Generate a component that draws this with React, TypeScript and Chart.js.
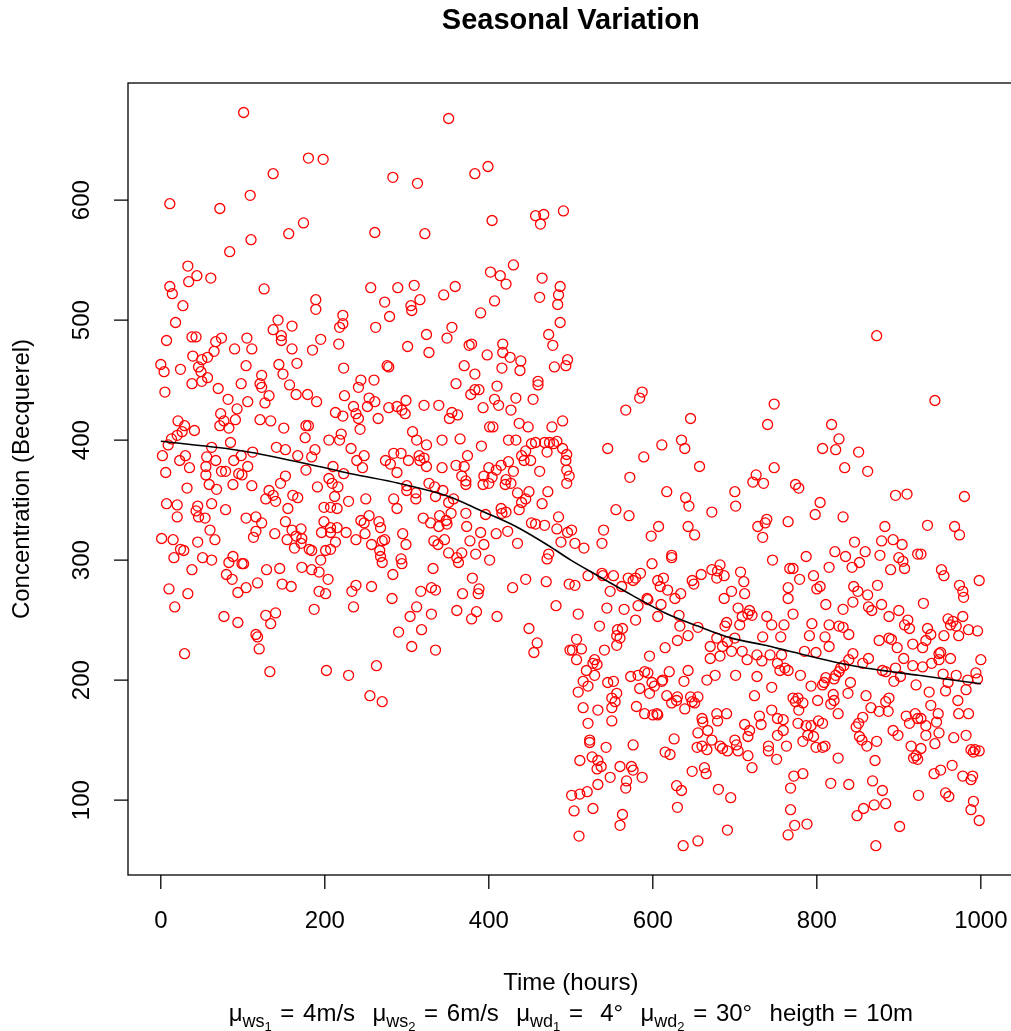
import React, { useEffect, useRef } from "react";
import { Chart, registerables } from "chart.js";

Chart.register(...registerables);

const WIDTH = 1011;
const HEIGHT = 1031;
const FONT = '"Liberation Sans", Arial, Helvetica, sans-serif';

const chartTitle = "Seasonal Variation";
const xAxisTitle = "Time (hours)";
const yAxisTitle = "Concentration (Becquerel)";

const xTicks = [0, 200, 400, 600, 800, 1000];
const yTicks = [100, 200, 300, 400, 500, 600];

// Subtitle pieces: [text, level] where level 0 = normal, 1 = subscript, 2 = sub-subscript
const subtitleParts: [string, number][] = [
  ["μ", 0], ["ws", 1], ["1", 2], [" = 4m/s  μ", 0], ["ws", 1], ["2", 2],
  [" = 6m/s  μ", 0], ["wd", 1], ["1", 2], [" =  4°  μ", 0], ["wd", 1], ["2", 2],
  [" = 30°  heigth = 10m", 0],
];

// Hourly observations: [time (hours), concentration (Bq)]
const observationsEarly: [number, number][] = [
  [101,673],[180,635],[198,634],[137,622],[109,604],[11,597],[72,593],[174,581],[156,572],[110,567],
  [84,557],[33,545],[44,537],[61,535],[34,532],[11,528],[126,526],[14,522],[189,517],[189,509],
  [27,512],[18,498],[143,500],[160,495],[137,492],[222,504],[222,497],[218,494],[7,483],[38,486],
  [43,486],[74,485],[67,482],[105,485],[147,487],[147,483],[195,484],[217,480],[90,476],[111,476],
  [160,476],[185,475],[65,474],[39,470],[57,469],[50,467],[0,463],[4,457],[24,459],[46,461],
  [49,457],[104,462],[144,463],[166,464],[223,460],[149,455],[123,454],[57,452],[50,449],[38,447],
  [98,447],[121,447],[123,444],[157,446],[5,440],[70,443],[132,437],[127,431],[165,438],[179,438],
  [190,432],[224,437],[82,434],[106,432],[93,426],[73,422],[21,416],[29,412],[77,416],[72,412],
  [83,410],[91,417],[121,417],[134,416],[150,410],[177,412],[180,412],[176,402],[213,423],[222,420],
  [26,407],[20,404],[13,401],[41,408],[9,396],[85,398],[205,400],[220,405],[218,400],[141,394],
  [152,392],[2,387],[30,387],[23,383],[62,394],[56,386],[67,383],[112,390],[89,383],[98,387],
  [106,378],[167,387],[188,392],[184,386],[210,378],[223,372],[35,377],[6,373],[55,378],[55,371],
  [74,374],[79,374],[95,372],[99,371],[152,370],[177,375],[205,368],
  [32,360],[59,363],[68,359],[88,363],[111,362],[132,358],[137,354],[128,351],[140,349],[146,364],
  [161,354],[167,352],[191,361],[209,364],[216,361],[212,353],[229,349],[7,347],[20,346],[20,336],
  [45,345],[43,341],[46,336],[54,335],[62,347],[79,342],[104,335],[116,336],[123,331],[116,324],
  [113,319],[155,343],[152,332],[139,322],[160,325],[171,326],[165,320],[199,344],[207,344],[215,343],
  [199,332],[196,323],[207,327],[215,327],[207,323],[226,323],[60,325],[66,317],[1,318],[15,317],
  [45,315],[24,309],[28,308],[16,302],[51,302],[62,300],[38,292],[88,303],[83,298],[99,297],
  [101,297],[80,288],[87,284],[94,273],[104,277],[118,281],[129,292],[145,293],[148,280],[159,278],
  [154,317],[163,310],[171,314],[172,318],[181,309],[184,308],[201,308],[207,309],[213,315],[195,300],
  [172,294],[184,292],[193,290],[204,284],[193,274],[201,272],[10,276],[33,272],[17,261],[77,253],
  [94,248],[128,254],[140,256],[134,247],[187,259],[116,238],[118,236],[120,226],[29,222],[133,207],
  [202,208],[229,204],
];

const observationsMid: [number, number][] = [
  [351,668],[399,628],[383,622],[283,619],[313,614],[404,583],[457,587],[467,588],[463,580],[491,591],
  [261,573],[322,572],[430,546],[402,540],[414,537],[421,530],[465,535],[487,528],[256,527],[289,527],
  [309,529],[359,528],
  [345,521],[407,516],[462,519],[485,521],[484,513],[273,515],[305,512],[306,508],[316,517],[279,503],
  [390,506],[487,498],[262,494],[355,494],[349,485],[324,488],[473,488],[478,479],[301,478],[327,473],
  [376,479],[379,480],[417,480],[417,473],[426,469],[398,471],[439,466],[438,458],[496,467],[494,462],
  [480,461],[276,462],[278,461],[370,462],[416,460],[383,455],[244,450],[241,444],[260,450],[360,447],
  [410,445],[460,449],[460,446],[383,442],[388,442],[378,438],[433,435],[454,434],[254,435],[261,432],
  [252,428],[299,433],[288,428],[294,425],[298,422],[321,429],[339,429],[407,434],[412,429],[393,427],
  [427,425],[235,428],[238,422],[241,418],[243,409],[265,418],[278,427],[355,423],[362,421],[352,418],
  [401,411],[405,411],[437,414],[448,411],[477,411],[490,416],[307,407],[312,400],[324,396],[343,400],
  [365,401],[391,395],[424,400],[433,400],[452,397],[457,398],[468,398],[474,398],[479,397],[483,399],
  [471,390],[490,393],[232,393],[248,387],[239,383],[246,377],[284,389],[293,389],[274,383],[280,380],
  [288,373],[302,383],[315,387],[321,385],[316,383],[324,378],[343,377],[360,379],[370,378],[374,387],
  [400,377],[409,375],[415,379],[424,382],[430,374],[440,387],[443,383],[445,391],[451,383],[462,374],
  [494,383],[495,375],[367,370],[372,366],[394,370],[404,369],[421,367],
  [250,351],[284,351],[288,343],[300,362],[300,358],[311,356],[311,351],[327,364],[334,361],[344,358],
  [335,353],[357,351],[351,348],[354,339],[372,363],[393,363],[400,364],[420,363],[427,364],[435,356],
  [449,357],[445,351],[440,348],[437,342],[472,357],[465,347],[495,364],[415,343],[421,340],[416,339],
  [396,338],[372,339],[373,328],[320,335],[329,331],[340,337],[348,333],[339,328],[349,330],[244,333],
  [248,331],[254,337],[266,332],[268,327],[249,322],[238,317],[257,313],[267,308],[270,316],[273,317],
  [268,303],[270,298],[295,322],[299,313],[293,301],[294,297],[283,288],[390,323],[409,322],[423,324],
  [435,314],[452,331],[457,330],[468,329],[485,336],[483,326],[488,315],[496,323],[333,316],[338,313],
  [346,317],[377,316],[394,313],[384,305],[401,300],[351,306],[361,302],[367,306],[363,298],[473,305],
  [471,301],[332,293],[380,285],[445,284],[429,277],[470,282],[498,280],[233,274],[238,279],[235,261],
  [257,278],[317,274],[330,277],[335,275],[368,272],[388,276],[387,272],[282,268],[312,261],[304,253],
  [330,255],[361,258],[379,251],[385,257],[410,253],[482,262],[290,240],[318,242],[306,228],[335,225],
  [449,243],[459,231],[455,223],[499,225],[263,212],[255,187],[270,182],
];

const observationsLate: [number, number][] = [
  [587,440],[584,435],[567,425],[646,418],[748,430],[740,413],[495,388],[545,393],[611,396],[635,400],
  [639,393],[589,386],[657,378],[748,377],[498,370],[572,369],[726,371],[722,365],[735,364],[617,357],
  [700,357],[640,352],[644,345],[555,342],[571,337],[672,340],[701,345],[739,334],[737,331],[728,328],
  [765,332],[501,325],[540,325],[607,328],[643,328],
  [873,487],[944,433],[818,413],[827,401],[807,393],[823,392],[851,390],[834,377],[862,374],[774,363],
  [778,360],[896,354],[910,355],[980,353],[804,348],[798,338],[832,336],[883,328],[935,329],[968,328],
  [598,320],[651,321],[734,319],[505,314],[516,310],[538,314],[623,304],[623,302],[746,300],[767,293],
  [521,287],[539,287],[538,289],[552,287],[505,279],[548,274],[562,278],[570,285],[576,283],[579,285],
  [585,289],[599,297],[606,283],[613,285],[609,278],[618,275],[627,268],[634,272],[593,268],[594,267],
  [610,263],[582,262],[565,259],[544,260],[509,255],[535,245],[579,250],[606,253],[632,254],[633,245],
  [655,244],[643,237],[630,233],[648,283],[650,280],[659,288],[672,292],[682,296],[678,285],[687,287],
  [679,291],[707,290],[711,282],[712,272],[696,274],[687,268],[704,260],[718,258],[709,253],[721,254],
  [716,255],[690,248],[688,245],[706,246],[739,253],[745,246],[760,246],[765,268],[765,277],[734,236],
  [756,236],[556,237],[557,242],[563,243],[560,235],[507,234],[502,225],[513,226],[507,217],[529,217],
  [532,213],[527,214],[529,204],[519,208],[541,225],[556,229],[596,220],[615,227],[670,228],[678,235],
  [685,228],[682,220],[670,218],[696,224],[700,235],[709,224],[715,217],[691,232],[727,221],[733,216],
  [743,221],[752,214],[757,221],[761,210],[765,208],[755,208],[515,199],[521,195],[509,190],[545,198],
  [552,199],[556,189],[550,185],[573,203],[582,204],[590,207],[594,206],[584,193],[599,198],[602,195],
  [612,200],[611,199],[620,207],[596,189],[617,187],[630,186],[638,199],[643,208],[666,200],[676,204],
  [701,204],[727,203],[745,194],[724,187],[646,186],[655,186],
  [974,321],[846,315],[879,316],[893,317],[904,313],[787,303],[822,307],[835,303],[859,307],[852,298],
  [843,294],[877,304],[900,302],[905,299],[907,293],[923,305],[927,305],[890,292],[771,293],[779,284],
  [815,294],[796,287],[952,292],[955,287],[998,283],[974,279],[978,274],[979,269],[800,276],[804,278],
  [845,278],[850,274],[862,271],[874,279],[811,263],[832,259],[844,265],[863,261],[867,258],[879,263],
  [900,258],[888,253],[911,250],[907,246],[913,243],[930,264],[771,255],[794,247],[815,246],[827,245],
  [832,244],[839,238],[791,237],[810,236],[815,228],[876,233],[888,235],[891,234],[898,227],[917,230],
  [929,227],[935,243],[939,238],[933,233],[955,237],[960,251],[966,249],[970,245],[973,237],[978,253],
  [963,246],[985,242],[996,241],[785,224],[799,223],[844,222],[839,217],[833,212],[829,210],[827,207],
  [823,204],[821,201],[811,202],[807,196],[856,214],[863,218],[880,208],[884,207],[896,210],[902,203],
  [894,199],[906,218],[917,212],[929,211],[940,214],[949,222],[951,223],[949,217],[963,218],[954,205],
  [970,204],[960,198],[984,200],[994,206],[1000,217],[996,201],[780,204],[793,195],[809,198],[841,198],
  [838,189],[820,188],[921,196],[937,190],[957,191],[982,192],[860,187],[888,185],[771,185],[777,185],
  [515,177],[533,175],[550,177],[554,182],[580,178],[590,172],[600,171],[605,172],[606,171],[623,181],
  [629,183],[639,176],[648,182],[651,181],[521,164],[550,166],[660,168],[661,165],[678,172],[679,166],
  [690,172],[712,163],[718,158],[716,153],[730,170],[732,163],[745,175],[752,168],[759,167],[759,158],
  [752,154],[655,156],[667,158],[672,150],[660,145],[654,144],[666,142],[682,145],[685,143],[691,141],
  [700,150],[704,141],[716,137],[721,127],[702,146],[741,145],[741,141],[751,134],[763,145],[523,150],
  [523,148],[543,144],[576,146],[626,151],[615,140],[621,138],[511,133],[526,136],[533,133],[532,126],
  [537,128],[548,119],[533,113],[560,128],[574,128],[576,125],[587,119],[568,116],[567,110],[648,124],
  [663,127],[665,122],[629,112],[635,108],[680,109],[695,102],[501,104],[511,105],[520,107],[504,91],
  [527,93],[563,88],[560,79],[630,94],[510,70],[637,62],[655,66],[691,75],
  [774,182],[783,181],[778,175],[801,183],[817,180],[821,183],[826,172],[866,177],[876,174],[884,182],
  [887,174],[777,164],[787,162],[793,162],[789,154],[796,153],[802,166],[807,164],[799,144],[807,144],
  [810,145],[783,149],[826,135],[848,161],[851,164],[856,169],[852,153],[855,150],[861,145],[873,149],
  [871,133],[893,158],[899,154],[909,170],[913,164],[920,172],[923,168],[927,168],[933,162],[948,172],
  [946,165],[949,156],[939,179],[933,154],[944,147],[927,143],[915,145],[921,137],[918,135],[923,134],
  [972,183],[973,172],[985,172],[967,152],[982,154],[988,142],[991,140],[998,141],[993,142],[965,129],
  [951,125],[943,122],[978,120],[988,117],[990,120],[924,104],[957,106],[961,103],[991,99],[988,92],
  [998,83],[772,120],[783,122],[768,110],[768,92],[765,71],[773,79],[788,80],[817,114],[839,113],
  [868,116],[880,108],[884,97],[870,96],[857,93],[849,87],[901,78],[872,62],
];

// Smoothed trend through the observations
const smoothHours = [0, 100, 200, 232, 290, 351, 391, 433, 473, 500, 533, 574, 615, 655, 696, 737, 767, 844, 924, 1000];
const smoothConc = [399, 391, 377, 372, 364, 353, 341, 328, 312, 300, 287, 271, 256, 245, 235, 229, 224, 212, 204, 197];

// Axis ranges (data range padded by 4%)
const X_MIN = -40;
const X_MAX = 1036.8;
const X_FRAME_MAX = 1040;
const Y_MIN = 37.6;
const Y_MAX = 697.6;

const decorations = {
  id: "baseDecorations",
  afterDraw(chart: any) {
    const { ctx, chartArea: a, scales } = chart;
    const xs = scales.x;
    const ys = scales.y;
    ctx.save();
    ctx.strokeStyle = "#000";
    ctx.fillStyle = "#000";
    ctx.lineWidth = 1.3;

    // plot frame
    const frameRight = xs.getPixelForValue(X_FRAME_MAX);
    ctx.strokeRect(a.left, a.top, frameRight - a.left, a.bottom - a.top);

    // tick marks
    const tickLen = 14;
    ctx.beginPath();
    for (const t of xTicks) {
      const px = xs.getPixelForValue(t);
      ctx.moveTo(px, a.bottom);
      ctx.lineTo(px, a.bottom + tickLen);
    }
    for (const t of yTicks) {
      const py = ys.getPixelForValue(t);
      ctx.moveTo(a.left, py);
      ctx.lineTo(a.left - tickLen, py);
    }
    ctx.stroke();

    // tick labels
    ctx.font = `24px ${FONT}`;
    ctx.textAlign = "center";
    ctx.textBaseline = "middle";
    for (const t of xTicks) {
      ctx.fillText(String(t), xs.getPixelForValue(t), a.bottom + 46);
    }
    for (const t of yTicks) {
      ctx.save();
      ctx.translate(a.left - 46, ys.getPixelForValue(t));
      ctx.rotate(-Math.PI / 2);
      ctx.fillText(String(t), 0, 0);
      ctx.restore();
    }

    const centerX = (a.left + frameRight) / 2;
    const centerY = (a.top + a.bottom) / 2;

    // axis titles
    ctx.fillText(xAxisTitle, centerX, 983);
    ctx.save();
    ctx.translate(22, centerY);
    ctx.rotate(-Math.PI / 2);
    ctx.fillText(yAxisTitle, 0, 0);
    ctx.restore();

    // main title
    ctx.font = `bold 29px ${FONT}`;
    ctx.fillText(chartTitle, centerX, 21);

    // subtitle with nested subscripts; spaces are set slightly wider
    const sizes = [24, 18, 13];
    const shifts = [0, 6, 10];
    const extraSpace = 2;
    const pieceWidth = (txt: string, lvl: number) => {
      ctx.font = `${sizes[lvl]}px ${FONT}`;
      const spaces = txt.split(" ").length - 1;
      return ctx.measureText(txt).width + spaces * extraSpace;
    };
    let total = 0;
    for (const [txt, lvl] of subtitleParts) total += pieceWidth(txt, lvl);
    let cx = centerX - total / 2;
    ctx.textAlign = "left";
    ctx.textBaseline = "alphabetic";
    const baseY = 1021;
    for (const [txt, lvl] of subtitleParts) {
      ctx.font = `${sizes[lvl]}px ${FONT}`;
      for (const ch of txt) {
        ctx.fillText(ch, cx, baseY + shifts[lvl]);
        cx += ctx.measureText(ch).width + (ch === " " ? extraSpace : 0);
      }
    }
    ctx.restore();
  },
};

export default function App() {
  const canvasRef = useRef<HTMLCanvasElement | null>(null);

  useEffect(() => {
    document.body.style.margin = "0";
    const canvas = canvasRef.current;
    if (!canvas) return;
    const observations = [...observationsEarly, ...observationsMid, ...observationsLate];
    const chart = new Chart(canvas, {
      type: "scatter",
      data: {
        datasets: [
          {
            type: "line",
            label: "trend",
            data: smoothHours.map((h, i) => ({ x: h, y: smoothConc[i] })),
            borderColor: "#000",
            borderWidth: 1.6,
            pointRadius: 0,
            fill: false,
            cubicInterpolationMode: "monotone",
          } as any,
          {
            label: "concentration",
            data: observations.map(([h, c]) => ({ x: h, y: c })),
            pointStyle: "circle",
            pointRadius: 5,
            borderWidth: 1.3,
            borderColor: "#ff0000",
            backgroundColor: "rgba(0,0,0,0)",
          },
        ],
      },
      options: {
        responsive: false,
        animation: false,
        devicePixelRatio: 1,
        layout: { autoPadding: false, padding: { left: 128, right: 0, top: 83, bottom: 156 } },
        plugins: {
          legend: { display: false },
          title: { display: false },
          tooltip: { enabled: false },
        },
        scales: {
          x: { type: "linear", display: false, min: X_MIN, max: X_MAX },
          y: { type: "linear", display: false, min: Y_MIN, max: Y_MAX },
        },
      },
      plugins: [decorations],
    });
    return () => chart.destroy();
  }, []);

  return (
    <div style={{ width: WIDTH, height: HEIGHT, background: "#fff" }}>
      <canvas ref={canvasRef} width={WIDTH} height={HEIGHT} style={{ display: "block" }} />
    </div>
  );
}
